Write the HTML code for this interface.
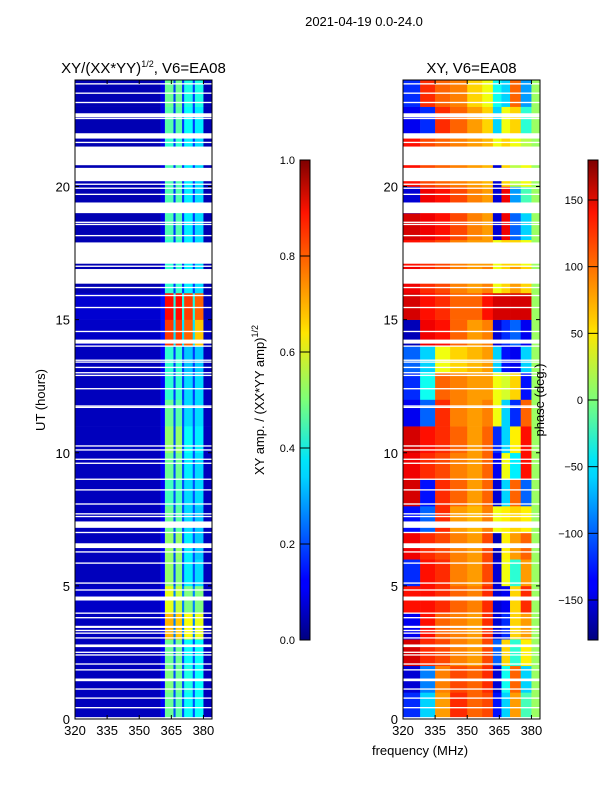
<!DOCTYPE html>
<html><head><meta charset="utf-8">
<style>
body{margin:0;background:#fff;}
svg{display:block;font-family:"Liberation Sans","DejaVu Sans",sans-serif;}
</style></head>
<body>
<svg id="fig" width="600" height="800" viewBox="0 0 600 800">
<defs>
<linearGradient id="jet" x1="0" y1="1" x2="0" y2="0">
<stop offset="0" stop-color="#00007f"/><stop offset="0.11" stop-color="#0000ff"/>
<stop offset="0.125" stop-color="#0000ff"/><stop offset="0.34" stop-color="#00d4ff"/>
<stop offset="0.375" stop-color="#00e5f8"/><stop offset="0.5" stop-color="#7cff79"/>
<stop offset="0.64" stop-color="#ffe600"/><stop offset="0.66" stop-color="#ffd200"/>
<stop offset="0.89" stop-color="#ff1300"/><stop offset="1" stop-color="#7f0000"/>
</linearGradient>
</defs>
<text x="364" y="26" font-size="13" text-anchor="middle">2021-04-19 0.0-24.0</text>
<g id="left"></g>
<g id="right"></g>
<text x="420" y="755" font-size="13" text-anchor="middle">frequency (MHz)</text>
<text transform="translate(45,400) rotate(-90)" font-size="13" text-anchor="middle">UT (hours)</text>
</svg>
<script>
const NS="http://www.w3.org/2000/svg";
// ---- data ----
const hours=[0,1,2,3,4,5,6,7,8,9,10,11,12,13,14,15,16,17,18,19,20,21,22,23];
const ampBands=[320,360,362,366,367,370,371,375,376,380,384];
const ampRows=[
[0.06,0.12,0.48,0.2,0.46,0.2,0.38,0.2,0.38,0.06],
[0.06,0.12,0.5,0.2,0.48,0.2,0.4,0.2,0.38,0.06],
[0.06,0.12,0.48,0.2,0.48,0.2,0.38,0.2,0.38,0.06],
[0.06,0.12,0.7,0.25,0.68,0.25,0.62,0.25,0.6,0.06],
[0.07,0.12,0.6,0.25,0.56,0.25,0.5,0.25,0.5,0.06],
[0.06,0.12,0.52,0.2,0.5,0.2,0.36,0.2,0.34,0.06],
[0.06,0.12,0.52,0.2,0.52,0.2,0.36,0.2,0.32,0.06],
[0.06,0.12,0.48,0.2,0.46,0.2,0.34,0.2,0.32,0.06],
[0.06,0.12,0.44,0.2,0.44,0.2,0.34,0.2,0.34,0.06],
[0.06,0.12,0.48,0.2,0.48,0.2,0.36,0.2,0.34,0.06],
[0.06,0.12,0.52,0.2,0.52,0.2,0.38,0.2,0.36,0.06],
[0.06,0.12,0.48,0.2,0.46,0.2,0.34,0.2,0.34,0.06],
[0.06,0.12,0.42,0.18,0.42,0.18,0.34,0.18,0.34,0.06],
[0.06,0.12,0.42,0.18,0.42,0.18,0.32,0.18,0.32,0.06],
[0.07,0.14,0.82,0.35,0.82,0.35,0.78,0.35,0.68,0.06],
[0.08,0.14,0.87,0.4,0.87,0.4,0.82,0.4,0.78,0.06],
[0.05,0.1,0.42,0.18,0.42,0.18,0.36,0.18,0.34,0.05],
[0.05,0.1,0.42,0.18,0.42,0.18,0.36,0.18,0.34,0.05],
[0.05,0.1,0.45,0.18,0.45,0.18,0.36,0.18,0.34,0.05],
[0.05,0.1,0.45,0.18,0.45,0.18,0.36,0.18,0.34,0.05],
[0.05,0.1,0.45,0.18,0.45,0.18,0.36,0.18,0.34,0.05],
[0.05,0.1,0.42,0.18,0.42,0.18,0.36,0.18,0.34,0.05],
[0.05,0.1,0.46,0.18,0.46,0.18,0.38,0.18,0.36,0.05],
[0.05,0.1,0.48,0.18,0.48,0.18,0.4,0.18,0.4,0.05]];
const phaseBands=[320,328,335,342,350,357,362,366,370,375,380,384];
const phaseRows=[
[-120,-60,80,120,100,110,-130,-60,80,-20,10],
[-150,-90,90,110,100,120,-150,-40,100,-60,10],
[150,120,110,90,80,110,-100,60,-30,50,10],
[-140,130,100,90,80,120,-150,-120,60,80,10],
[130,130,120,100,90,120,-150,-140,60,120,10],
[-120,130,120,90,80,110,-150,40,-30,80,10],
[140,120,110,90,80,110,-160,50,80,100,10],
[-130,-100,120,80,70,90,40,50,60,50,10],
[150,-130,120,100,80,100,-150,-60,100,-100,10],
[140,120,110,90,80,100,-140,40,-50,130,10],
[150,130,120,100,80,100,-120,-60,50,130,10],
[-140,-100,120,90,80,90,40,-60,-120,100,10],
[-120,-40,100,90,80,80,40,30,60,-130,10],
[-100,-60,40,60,70,80,-60,-130,-140,-60,10],
[-160,140,130,100,80,90,-150,-120,-100,-140,10],
[150,130,120,100,100,130,150,150,150,150,10],
[140,120,110,90,80,90,40,60,80,60,10],
[130,120,110,90,80,80,40,60,60,40,10],
[150,140,130,110,90,80,-150,140,-100,-60,10],
[-150,140,130,110,90,80,-150,140,-80,-20,10],
[130,110,100,90,80,70,-150,60,20,40,10],
[130,110,100,90,80,70,40,60,40,20,10],
[-140,-120,120,100,80,60,-60,40,60,-30,10],
[-120,120,100,90,60,40,-40,-60,100,-80,10]];
const flagStart=[0.02,0.4,0.76,1.1,1.42,1.82,2.04,2.38,2.48,2.7,3.02,3.2,3.3,3.42,3.78,3.95,4.45,4.82,5.08,5.83,6.25,6.42,6.98,7.18,7.58,7.68,8.05,8.58,8.98,9.58,9.73,10.08,10.23,11.68,11.73,12.38,12.88,12.98,13.18,13.38,13.45,13.98,14.1,14.53,15.43,15.88,16.18,16.35,16.98,17.1,18.13,18.55,18.63,19.0,19.68,19.91,20.06,20.2,20.8,21.63,21.8,22.53,22.6,23.13,23.48,23.83];
const flagEnd=[0.07,0.45,0.81,1.15,1.52,1.87,2.09,2.43,2.53,2.8,3.07,3.25,3.35,3.5,3.83,4.0,4.6,4.87,5.13,5.88,6.3,6.6,7.03,7.42,7.63,7.73,8.1,8.63,9.03,9.63,9.78,10.13,10.28,11.73,11.78,12.43,12.93,13.03,13.23,13.43,13.5,14.03,14.25,14.58,15.48,15.93,16.23,16.9,17.03,17.9,18.18,18.6,18.68,19.4,19.73,19.96,20.11,20.7,21.5,21.68,22.0,22.58,22.75,23.18,23.53,23.88];
const xTicks=[320,335,350,365,380];
const yTicks=[0,5,10,15,20];
const ampTicks=[0.0,0.2,0.4,0.6,0.8,1.0];
const phaseTicks=[-150,-100,-50,0,50,100,150];
// ---- helpers ----
function jet(v){v=Math.max(0,Math.min(1,v));
 const f=x=>Math.round(255*Math.max(0,Math.min(1,x)));
 return `rgb(${f(1.5-Math.abs(4*v-3))},${f(1.5-Math.abs(4*v-2))},${f(1.5-Math.abs(4*v-1))})`;}
function mk(tag,attrs,parent){const e=document.createElementNS(NS,tag);for(const k in attrs)e.setAttribute(k,attrs[k]);parent.appendChild(e);return e;}
const Y0=719,Y1=80;
const yS=h=>Y0-(h/24)*(Y0-Y1);
function panel(g,x0,x1,bands,rows,norm,title,tagPrefix){
 const xS=f=>x0+(f-320)/(384-320)*(x1-x0);
 hours.forEach((h,i)=>{rows[i].forEach((v,j)=>{
   const r=mk('rect',{x:xS(bands[j]),y:yS(h+1),width:xS(bands[j+1])-xS(bands[j])+0.3,height:yS(h)-yS(h+1)+0.3,fill:jet(norm(v))},g);
   
   
 });});
 flagStart.forEach((s,k)=>{
   const r=mk('rect',{x:x0,y:yS(flagEnd[k]),width:x1-x0,height:yS(s)-yS(flagEnd[k]),fill:'#fff'},g);
   
   
 });
 const fr=mk('rect',{x:x0,y:Y1,width:x1-x0,height:Y0-Y1,fill:'none',stroke:'#000','stroke-width':1},g);
 
 
 xTicks.forEach(t=>{const x=xS(t);
   mk('line',{x1:x,x2:x,y1:Y0,y2:Y0-4,stroke:'#000'},g);mk('line',{x1:x,x2:x,y1:Y1,y2:Y1+4,stroke:'#000'},g);
   const tx=mk('text',{x:x,y:Y0+16,'font-size':13,'text-anchor':'middle'},g);tx.textContent=t;
   
   });
 yTicks.forEach(t=>{const y=yS(t);
   mk('line',{x1:x0,x2:x0+4,y1:y,y2:y,stroke:'#000'},g);mk('line',{x1:x1,x2:x1-4,y1:y,y2:y,stroke:'#000'},g);
   const tx=mk('text',{x:x0-5,y:y+5,'font-size':13,'text-anchor':'end'},g);tx.textContent=t;
   
   });
 const tt=mk('text',{x:(x0+x1)/2,y:73,'font-size':15,'text-anchor':'middle'},g);tt.innerHTML=title;
 
 
}
function colorbar(x,ticks,lo,hi,label,lx,name){
 const svg=document.getElementById('fig');
 const g=mk('g',{},svg);
 
 
 mk('rect',{x:x,y:160,width:10,height:480,fill:'url(#jet)',stroke:'#000','stroke-width':1},g);
 ticks.forEach(t=>{const y=640-(t-lo)/(hi-lo)*480;
  mk('line',{x1:x,x2:x+10,y1:y,y2:y,stroke:'#000'},g);
  const tx=mk('text',{x:x-5,y:y+4,'font-size':11,'text-anchor':'end'},g);tx.textContent=(hi<=1)?t.toFixed(1):(t<0?'\u2212'+(-t):t);
  
  });
 const lb=mk('text',{transform:`translate(${lx},400) rotate(-90)`,'font-size':13,'text-anchor':'middle'},g);lb.innerHTML=label;
 
 
}
panel(document.getElementById('left'),75,212,ampBands,ampRows,v=>v,'XY/(XX*YY)<tspan dy="-6" font-size="9">1/2</tspan><tspan dy="6">, V6=EA08</tspan>','amp');
panel(document.getElementById('right'),403,540,phaseBands,phaseRows,v=>(v+180)/360,'XY, V6=EA08','phase');
colorbar(300,ampTicks,0,1,'XY amp. / (XX*YY amp)<tspan dy="-6" font-size="9">1/2</tspan>',264,'amplitude-colorbar');
colorbar(588,phaseTicks,-180,180,'phase (deg.)',544,'phase-colorbar');
</script>
</body></html>
